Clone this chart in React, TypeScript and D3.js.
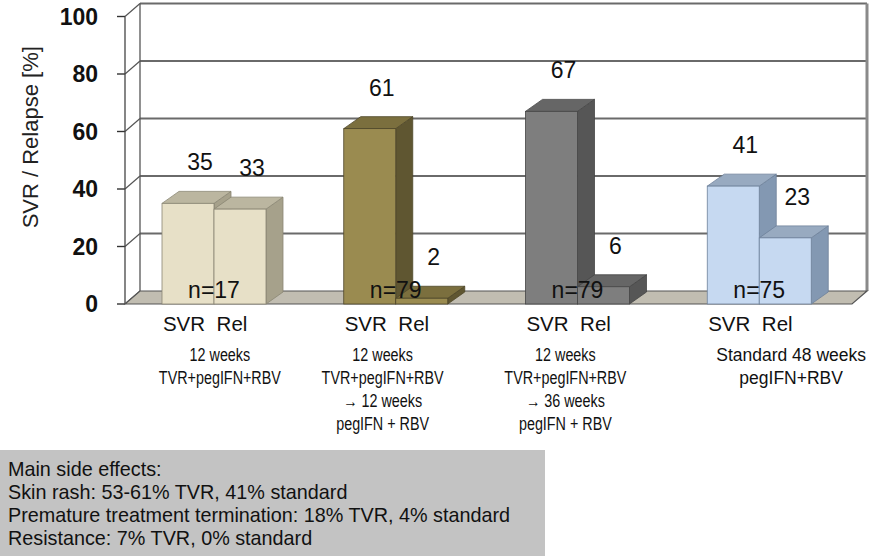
import React from 'react';
import * as d3 from 'd3';

const groups = ['g1', 'g2', 'g3', 'g4'];
const seriesNames = ['SVR', 'Rel'];
const svrValues = [35, 61, 67, 41];
const relValues = [33, 2, 6, 23];
const nLabels = ['n=17', 'n=79', 'n=79', 'n=75'];
const categoryLines = [
  ['12 weeks', 'TVR+pegIFN+RBV'],
  ['12 weeks', 'TVR+pegIFN+RBV', '\u2192  12 weeks', 'pegIFN + RBV'],
  ['12 weeks', 'TVR+pegIFN+RBV', '\u2192  36 weeks', 'pegIFN + RBV'],
  ['Standard 48 weeks', 'pegIFN+RBV'],
];
const yTicks = [0, 20, 40, 60, 80, 100];
const sideEffects = [
  'Main side effects:',
  'Skin rash: 53-61% TVR, 41% standard',
  'Premature treatment termination: 18% TVR, 4% standard',
  'Resistance: 7% TVR, 0% standard',
];
const palettes = [
  { front: '#e7e0c7', side: '#a6a18b', top: '#bbb6a0', stroke: '#8a8674' },
  { front: '#9a8b50', side: '#5f5631', top: '#7b6f3e', stroke: '#4e4628' },
  { front: '#7e7e7e', side: '#565656', top: '#666666', stroke: '#454545' },
  { front: '#c6d9f1', side: '#8398b2', top: '#98aac0', stroke: '#6e819a' },
];

const FONT = '"Liberation Sans", Arial, Helvetica, sans-serif';

export default function App() {
  const W = 873, H = 556;
  const x0 = d3.scaleBand().domain(groups).range([125, 852]);
  const x1 = d3.scaleBand().domain(seriesNames).range([37, 141]);
  const y = d3.scaleLinear().domain([0, 100]).range([304, 16.5]);
  const FDX = 15, FDY = -13; // floor/wall depth
  const BDX = 17, BDY = -12; // bar depth
  const xL = x0.range()[0];
  const xR = x0.range()[1];
  const y0 = y(0);
  // text-box nudges / condensing of the category captions
  const captionShift = [4, -15, -14, 30];
  const captionScale = [0.82, 0.82, 0.82, 1];

  const pts = (a: number[][]) => a.map((p) => p.join(',')).join(' ');

  const bars: any[] = [];
  groups.forEach((g, gi) => {
    [svrValues[gi], relValues[gi]].forEach((v, si) => {
      const bx = (x0(g) as number) + (x1(seriesNames[si]) as number);
      const bw = x1.bandwidth();
      const by = y(v);
      bars.push({ g, gi, si, v, bx, bw, by });
    });
  });

  return (
    <svg width={W} height={H} style={{ position: 'absolute', left: 0, top: 0, background: '#fff' }} fontFamily={FONT}>
      {/* back wall */}
      <rect x={xL + FDX} y={y(100) + FDY} width={xR - xL} height={y0 - y(100)} fill="#fff" />
      {/* gridlines on back wall and left wall */}
      {yTicks.map((t) => (
        <g key={'grid' + t}>
          {t > 0 && (
            <line x1={xL + FDX} x2={xR + FDX} y1={y(t) + FDY} y2={y(t) + FDY} stroke="#6a6a6a" strokeWidth={1.8} />
          )}
          <line x1={xL} y1={y(t)} x2={xL + FDX} y2={y(t) + FDY} stroke="#555" strokeWidth={1.2} />
          <line x1={xL - 8} x2={xL} y1={y(t)} y2={y(t)} stroke="#333" strokeWidth={1.4} />
        </g>
      ))}
      {/* back wall right edge */}
      <line x1={xR + FDX} x2={xR + FDX} y1={y(100) + FDY} y2={y0 + FDY} stroke="#8a8a8a" strokeWidth={3} />
      {/* left wall edges */}
      <line x1={xL} x2={xL} y1={y(100)} y2={y0} stroke="#444" strokeWidth={1.3} />
      <line x1={xL + FDX} x2={xL + FDX} y1={y(100) + FDY} y2={y0 + FDY} stroke="#555" strokeWidth={1.3} />
      {/* floor */}
      <polygon
        points={pts([[xL, y0], [xR, y0], [xR + FDX, y0 + FDY], [xL + FDX, y0 + FDY]])}
        fill="#c1bdb1"
        stroke="#555"
        strokeWidth={1.2}
      />
      {/* bars */}
      {bars.map((b, i) => {
        const p = palettes[b.gi];
        const { bx, bw, by } = b;
        return (
          <g key={'bar' + i}>
            <polygon
              points={pts([[bx + bw, by], [bx + bw + BDX, by + BDY], [bx + bw + BDX, y0 + BDY], [bx + bw, y0]])}
              fill={p.side}
              stroke={p.stroke}
              strokeWidth={0.8}
            />
            <polygon
              points={pts([[bx, by], [bx + bw, by], [bx + bw + BDX, by + BDY], [bx + BDX, by + BDY]])}
              fill={p.top}
              stroke={p.stroke}
              strokeWidth={0.8}
            />
            <rect x={bx} y={by} width={bw} height={y0 - by} fill={p.front} stroke={p.stroke} strokeWidth={0.8} />
          </g>
        );
      })}
      {/* value labels */}
      {bars.map((b, i) => (
        <text
          key={'val' + i}
          x={b.bx + b.bw / 2 + 12}
          y={b.by - 41}
          fontSize={23}
          textAnchor="middle"
          dominantBaseline="central"
          fill="#111"
        >
          {b.v}
        </text>
      ))}
      {/* n labels */}
      {groups.map((g, gi) => (
        <text
          key={'n' + g}
          x={(x0(g) as number) + (x1('Rel') as number)}
          y={y0 - 6}
          fontSize={23}
          textAnchor="middle"
          fill="#111"
        >
          {nLabels[gi]}
        </text>
      ))}
      {/* series labels */}
      {bars.map((b, i) => (
        <text
          key={'s' + i}
          x={b.bx + b.bw / 2 - (b.si === 0 ? 4 : 8)}
          y={y0 + 27}
          fontSize={20.5}
          textAnchor="middle"
          fill="#111"
        >
          {seriesNames[b.si]}
        </text>
      ))}
      {/* category labels */}
      {groups.map((g, gi) => (
        <g
          key={'cat' + g}
          transform={`translate(${(x0(g) as number) + x0.bandwidth() / 2 + captionShift[gi]},${y0 + 57}) scale(${captionScale[gi]},1)`}
        >
          {categoryLines[gi].map((l, li) => (
            <text key={li} x={0} y={li * 23} fontSize={17.5} textAnchor="middle" fill="#111">
              {l}
            </text>
          ))}
        </g>
      ))}
      {/* y tick labels */}
      {yTicks.map((t) => (
        <text
          key={'yt' + t}
          x={xL - 27}
          y={y(t)}
          fontSize={23}
          fontWeight="bold"
          textAnchor="end"
          dominantBaseline="central"
          fill="#111"
        >
          {t}
        </text>
      ))}
      {/* y axis title */}
      <text
        transform={`translate(30,${(y(100) + y(0)) / 2 - 23}) rotate(-90)`}
        fontSize={22}
        textAnchor="middle"
        dominantBaseline="central"
        fill="#222"
      >
        SVR / Relapse [%]
      </text>
      {/* side effects box */}
      <rect x={0} y={450} width={545} height={106} fill="#c3c3c3" />
      <text x={8} y={476} fontSize={19.8} fill="#111">
        {sideEffects.map((l, li) => (
          <tspan key={li} x={8} dy={li === 0 ? 0 : 23}>
            {l}
          </tspan>
        ))}
      </text>
    </svg>
  );
}
